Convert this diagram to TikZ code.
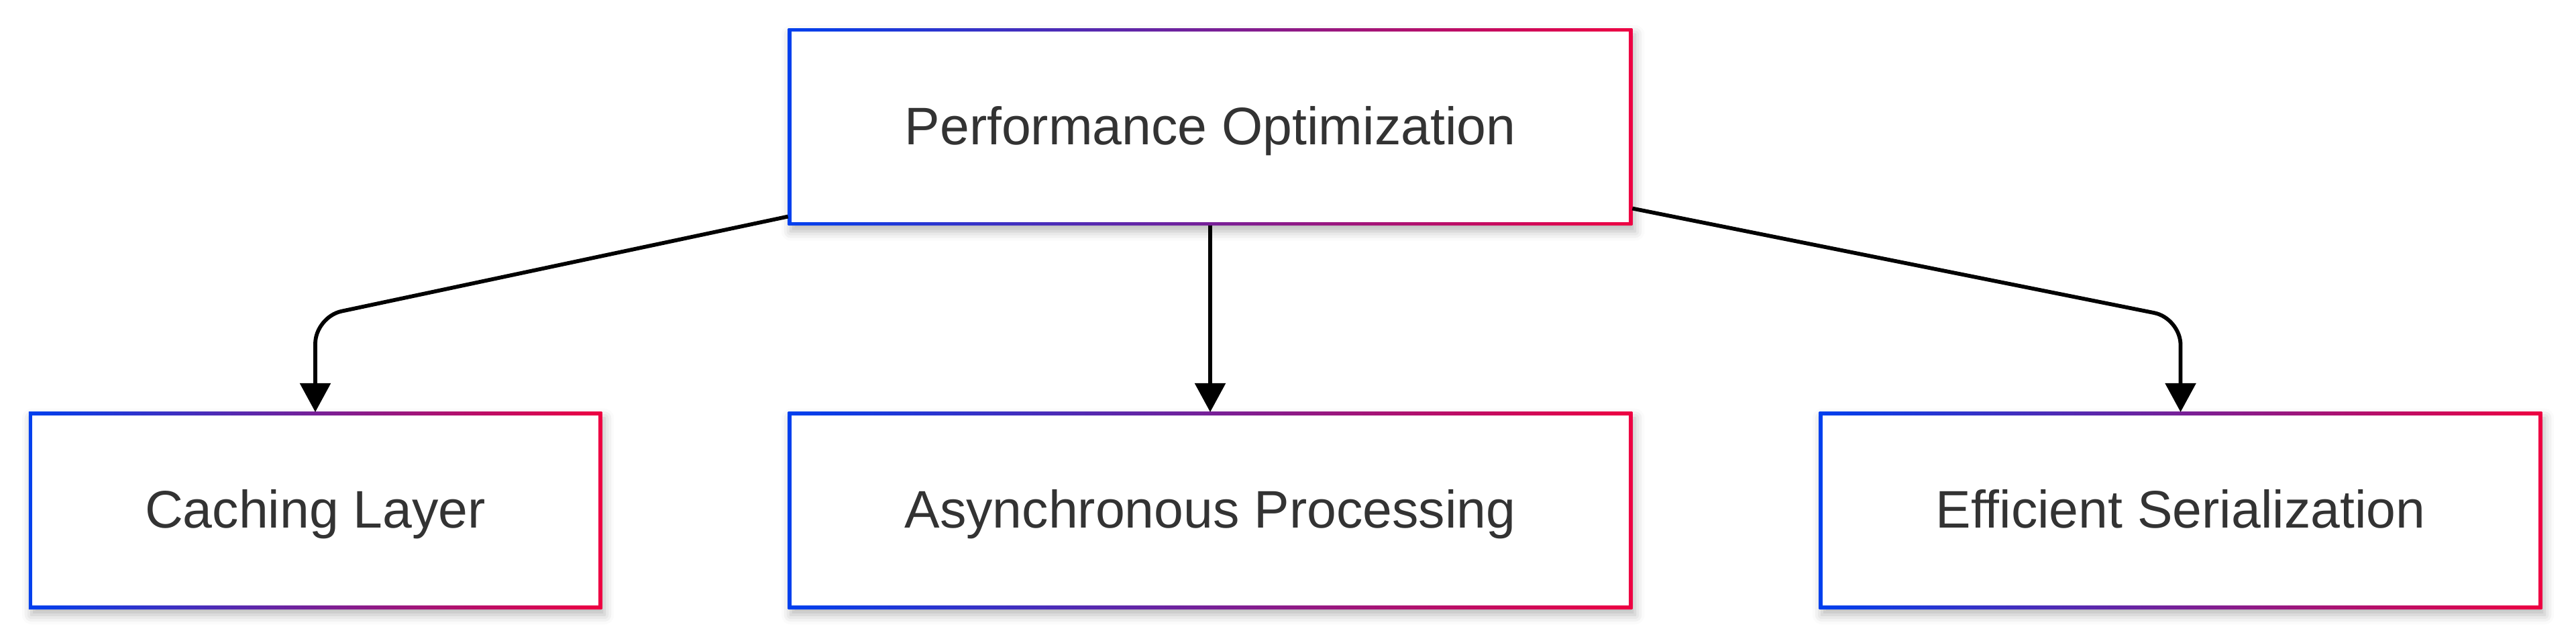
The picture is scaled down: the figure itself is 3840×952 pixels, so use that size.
\documentclass[tikz,border=0pt]{standalone}
\usepackage{fontspec}
\setmainfont{Liberation Sans}
\usetikzlibrary{arrows.meta,shadows.blur}
\definecolor{edgeblue}{RGB}{0,64,238}
\definecolor{edgered}{RGB}{238,0,66}
\definecolor{labelgray}{RGB}{51,51,51}

\begin{document}
\begin{tikzpicture}[x=0.01cm, y=-0.01cm,
  box/.style={rectangle, inner sep=0pt, outer sep=0pt, fill=white,
    minimum height=2.93cm, text height=0.52cm, text depth=0cm,
    text=labelgray, font=\fontsize{22.4}{26}\selectfont,
    blur shadow={shadow xshift=0.04cm, shadow yshift=-0.09cm,
      shadow blur radius=0.14cm, shadow opacity=28},
    path picture={
      \shade[left color=edgeblue, right color=edgered]
        (path picture bounding box.south west) rectangle (path picture bounding box.north east);
      \fill[white] ([shift={(0.05cm,0.05cm)}]path picture bounding box.south west)
        rectangle ([shift={(-0.05cm,-0.05cm)}]path picture bounding box.north east);
    }},
  link/.style={line width=0.058cm, rounded corners=0.4cm,
    -{Triangle[length=0.43cm, width=0.45cm]}}]
\useasboundingbox (0,0) rectangle (3840,952);

% top node
\node[box, minimum width=12.58cm] (perf) at (1804,189) {Performance Optimization};

% second row
\node[box, minimum width=8.54cm] (cache) at (470,760.5) {Caching Layer};
\node[box, minimum width=12.58cm] (async) at (1804,760.5) {Asynchronous Processing};
\node[box, minimum width=10.77cm] (serial) at (3250.5,760.5) {Efficient Serialization};

\coordinate (cachebend) at (470,472);
\coordinate (serialbend) at (3250.5,474);

% links
\draw[link] ([yshift=0.13cm]perf.south west) -- (cachebend) -- (cache.north);
\draw[link] (perf.south) -- (async.north);
\draw[link] ([yshift=0.25cm]perf.south east) -- (serialbend) -- (serial.north);
\end{tikzpicture}
\end{document}
